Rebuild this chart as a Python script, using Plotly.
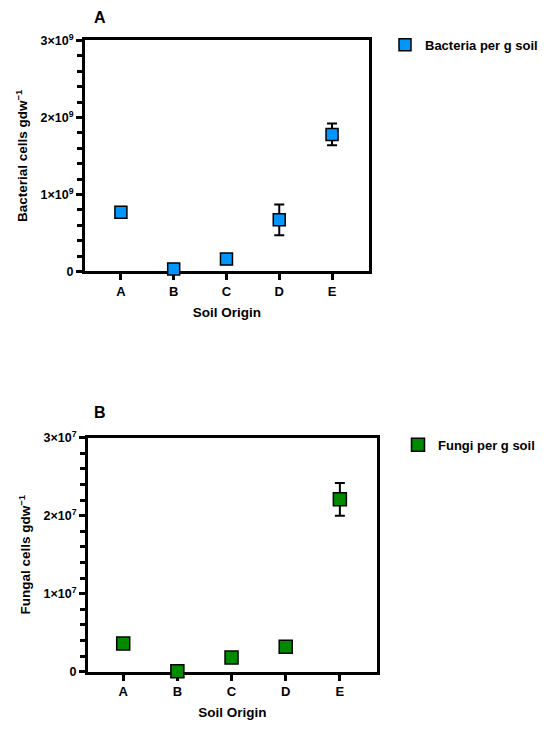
import plotly.graph_objects as go

# soil origins and cell counts (mean and error per g dry weight)
soils = ["A", "B", "C", "D", "E"]
bacteria = [0.77e9, 0.03e9, 0.16e9, 0.67e9, 1.78e9]
bacteria_err = [0.05e9, 0.0, 0.0, 0.2e9, 0.14e9]
fungi = [3.6e6, 0.05e6, 1.8e6, 3.2e6, 2.21e7]
fungi_err = [0.0, 0.0, 0.0, 0.3e6, 2.1e6]

bac_ticks = [0, 1e9, 2e9, 3e9]
bac_ticktext = ["0", "1×10<sup>9</sup>", "2×10<sup>9</sup>", "3×10<sup>9</sup>"]
fun_ticks = [0, 1e7, 2e7, 3e7]
fun_ticktext = ["0", "1×10<sup>7</sup>", "2×10<sup>7</sup>", "3×10<sup>7</sup>"]

FONT = "Arial, Liberation Sans, sans-serif"
BLUE = "#0096ff"
GREEN = "#008a00"
W, H = 548, 743
OFF = 8  # page body margin


def xp(px):
    return (px - OFF) / W


def yp(px):
    return 1 - (px - OFF) / H


fig = go.Figure()

fig.add_trace(go.Scatter(
    x=soils, y=bacteria, mode="markers", name="Bacteria per g soil",
    marker=dict(symbol="square", size=12, color=BLUE, line=dict(color="black", width=1.5)),
    error_y=dict(type="data", array=bacteria_err, color="black", thickness=2, width=5),
    cliponaxis=False, xaxis="x", yaxis="y", legend="legend", showlegend=True,
))
fig.add_trace(go.Scatter(
    x=soils, y=fungi, mode="markers", name="Fungi per g soil",
    marker=dict(symbol="square", size=13, color=GREEN, line=dict(color="black", width=1.5)),
    error_y=dict(type="data", array=fungi_err, color="black", thickness=2, width=5),
    cliponaxis=False, xaxis="x2", yaxis="y2", legend="legend2", showlegend=True,
))

axis_common = dict(
    showline=True, linecolor="black", linewidth=3, mirror=True,
    ticks="outside", tickcolor="black", tickwidth=3, ticklen=6,
    showgrid=False, zeroline=False, layer="below traces",
)
xtick_font = dict(family=FONT, size=13, color="black", weight="bold")
ytick_font = dict(family=FONT, size=12.5, color="black", weight="bold")
title_font = dict(family=FONT, size=13.5, color="black", weight="bold")
legend_font = dict(family=FONT, size=13, color="black", weight="bold")

fig.update_layout(
    width=W, height=H,
    margin=dict(l=0, r=0, t=0, b=0),
    paper_bgcolor="white", plot_bgcolor="white",
    font=dict(family=FONT, color="black"),
    showlegend=True,
    xaxis=dict(axis_common, domain=[xp(85), xp(369)], anchor="y",
               range=[-0.68, 4.7], tickfont=xtick_font,
               title=dict(text="Soil Origin", font=title_font, standoff=10)),
    yaxis=dict(axis_common, domain=[yp(268), yp(32)], anchor="x",
               range=[0, 3e9], tickvals=bac_ticks, ticktext=bac_ticktext, tickfont=ytick_font,
               minor=dict(dtick=2e8, ticks="outside", ticklen=5, tickwidth=3, tickcolor="black"),
               title=dict(text="Bacterial cells gdw<sup>−1</sup>", font=title_font, standoff=10)),
    xaxis2=dict(axis_common, domain=[xp(88), xp(376.7)], anchor="y2",
                range=[-0.65, 4.68], tickfont=xtick_font,
                title=dict(text="Soil Origin", font=title_font, standoff=10)),
    yaxis2=dict(axis_common, domain=[yp(677), yp(438)], anchor="x2",
                range=[0, 3e7], tickvals=fun_ticks, ticktext=fun_ticktext, tickfont=ytick_font,
                minor=dict(dtick=2e6, ticks="outside", ticklen=5, tickwidth=3, tickcolor="black"),
                title=dict(text="Fungal cells gdw<sup>−1</sup>", font=title_font, standoff=10)),
    legend=dict(x=xp(385), y=yp(21), xanchor="left", yanchor="top",
                bgcolor="rgba(0,0,0,0)", font=legend_font),
    legend2=dict(x=xp(398), y=yp(430), xanchor="left", yanchor="top",
                 bgcolor="rgba(0,0,0,0)", font=legend_font),
    annotations=[
        dict(text="A", x=xp(100), y=yp(8), xref="paper", yref="paper",
             xanchor="center", yanchor="middle", showarrow=False,
             font=dict(family=FONT, size=16, weight="bold")),
        dict(text="B", x=xp(100), y=yp(412), xref="paper", yref="paper",
             xanchor="center", yanchor="middle", showarrow=False,
             font=dict(family=FONT, size=16, weight="bold")),
    ],
)

fig.write_html("out.html")
